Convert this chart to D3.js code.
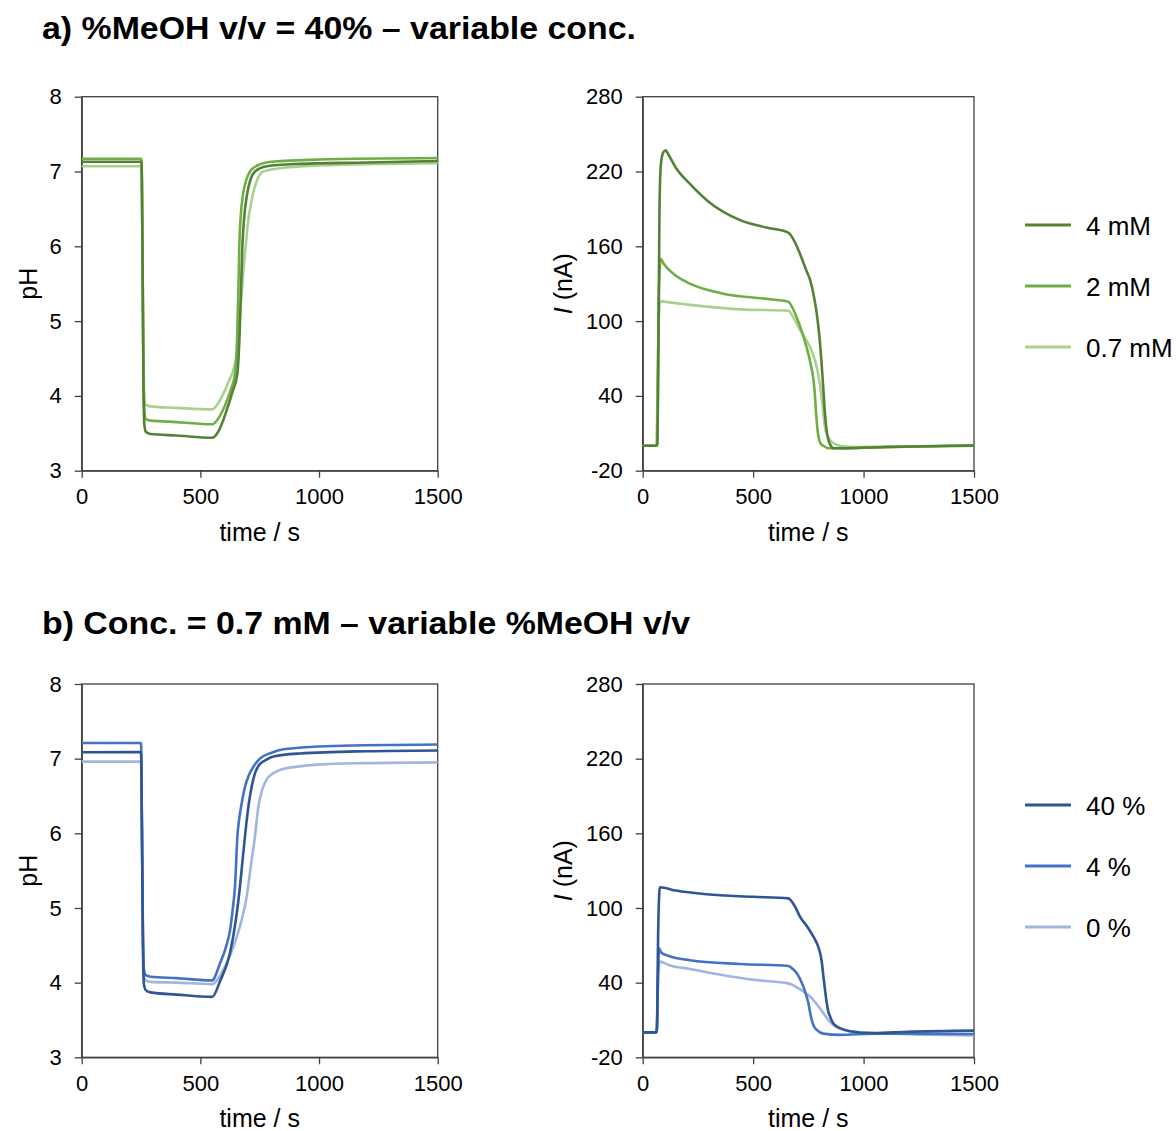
<!DOCTYPE html>
<html>
<head>
<meta charset="utf-8">
<script src="https://cdn.jsdelivr.net/npm/d3@7"></script>
<style>
  body { margin: 0; background: #fff; }
  text { font-family: "Liberation Sans", Arial, sans-serif; fill: #000; }
</style>
</head>
<body>
<div id="chart"></div>
<script>
// tick labels
var timeTicks = [0, 500, 1000, 1500];
var phTicks = [3, 4, 5, 6, 7, 8];
var currentTicks = [-20, 40, 100, 160, 220, 280];

// a) pH, 40 % MeOH, variable concentration  [time (s), pH]
var phA_4mM = [[0,7.13],[252,7.13],[256,6.0],[260,4.2],[264,3.62],[270,3.52],[290,3.49],[400,3.47],[550,3.44],[580,3.55],[610,3.8],[635,4.05],[656,4.3],[665,4.8],[672,5.5],[677,6.0],[685,6.4],[697,6.7],[712,6.9],[730,7.0],[780,7.07],[900,7.1],[1200,7.12],[1500,7.14]];
var phA_2mM = [[0,7.17],[252,7.17],[256,6.0],[260,4.4],[264,3.8],[270,3.69],[290,3.67],[400,3.65],[550,3.62],[580,3.72],[610,3.92],[630,4.1],[646,4.3],[655,4.8],[660,5.4],[664,6.0],[670,6.4],[680,6.7],[695,6.9],[709,7.0],[740,7.08],[800,7.13],[1000,7.16],[1500,7.18]];
var phA_07mM = [[0,7.07],[252,7.07],[256,6.0],[260,4.6],[264,3.95],[270,3.88],[290,3.86],[400,3.84],[550,3.82],[575,3.9],[600,4.05],[620,4.2],[639,4.35],[655,4.6],[670,5.2],[682,5.7],[691,6.0],[700,6.3],[715,6.6],[735,6.85],[765,7.0],[850,7.05],[1000,7.08],[1500,7.11]];

// a) current  [time (s), I (nA)]
var iA_4mM = [[0,0],[60,0],[66,1],[72,100],[76,190],[82,225],[92,235],[104,237],[115,234],[150,223],[214,210],[290,197],[441,181],[560,175],[659,171],[690,163],[712,154],[740,141],[758,133],[775,120],[788,106],[800,88],[810,66],[818,45],[825,26],[833,12],[840,5],[852,0],[863,-2],[923,-2],[1100,-1],[1500,0]];
var iA_2mM = [[0,0],[60,0],[66,1],[72,110],[78,145],[81,150],[95,146],[139,138],[214,130],[365,122],[550,118],[659,115.6],[680,110],[697,103],[720,92],[742,79],[760,66],[773,53],[780,40],[785,26],[795,8],[805,2],[818,0],[840,-2],[863,-2],[1000,-1.5],[1500,0.5]];
var iA_07mM = [[0,0],[58,0],[62,2],[70,80],[76,113],[78,116],[120,115],[214,113],[441,109.4],[659,108.3],[685,102],[712,93],[740,85],[758,79],[775,71],[788,63],[800,52],[810,39],[818,26],[825,15],[835,9],[848,4.6],[870,1.5],[893,0],[969,-1],[1200,-0.5],[1500,0]];

// b) pH, 0.7 mM, variable %MeOH
var phB_40 = [[0,7.085],[250,7.09],[254,6.0],[258,4.5],[262,3.98],[270,3.9],[290,3.87],[400,3.84],[550,3.81],[583,4.02],[625,4.4],[650,4.85],[667,5.29],[678,5.65],[688,5.96],[698,6.25],[709,6.5],[725,6.75],[744,6.9],[775,6.98],[808,7.03],[920,7.07],[1200,7.1],[1500,7.11]];
var phB_4 = [[0,7.21],[250,7.21],[254,6.0],[258,4.7],[262,4.18],[270,4.1],[290,4.08],[400,4.06],[549,4.03],[583,4.26],[610,4.5],[625,4.7],[637,5.0],[646,5.29],[656,5.96],[664,6.2],[674,6.4],[688,6.62],[702,6.76],[725,6.9],[751,7.0],[800,7.08],[850,7.125],[1060,7.17],[1500,7.19]];
var phB_0 = [[0,6.96],[250,6.96],[254,6.0],[258,4.6],[262,4.1],[270,4.03],[290,4.01],[400,4.0],[549,3.98],[597,4.17],[639,4.48],[674,4.84],[695,5.15],[716,5.64],[730,5.96],[744,6.35],[760,6.58],[779,6.72],[805,6.8],[836,6.85],[900,6.89],[990,6.92],[1200,6.94],[1500,6.95]];

// b) current
var iB_40 = [[0,0],[60,0],[64,2],[70,80],[75,112],[78,116.6],[150,114],[290,111],[501,109],[659,107.7],[690,101],[712,93],[745,85],[773,77],[790,71],[803,64],[812,55],[818,45],[825,35],[833,24],[840,17],[848,13],[860,8],[878,5],[900,3],[938,1],[1044,-0.5],[1200,0.5],[1500,1.4]];
var iB_4 = [[0,0],[60,0],[64,2],[70,50],[74,67.6],[85,64],[109,62],[214,58],[441,55],[659,53.4],[680,51],[697,47.7],[712,43],[727,37],[740,30],[750,23.6],[758,16],[765,10.2],[775,5],[788,2],[818,-1],[893,-2],[1044,-1],[1500,-1.3]];
var iB_0 = [[0,0],[60,0],[64,2],[70,45],[78,56.9],[120,54],[214,51],[365,46],[516,42],[659,39.4],[700,36],[727,33],[750,30],[773,26],[795,21],[818,15.5],[840,10],[863,6],[890,3],[923,1.4],[1044,-0.5],[1300,-1.8],[1500,-2.4]];

var legendA = ["4 mM", "2 mM", "0.7 mM"];
var legendB = ["40 %", "4 %", "0 %"];
var greens = ["#548235", "#70AD47", "#A9D18E"];
var blues = ["#2F5597", "#4472C4", "#A3B4DE"];

var svg = d3.select("#chart").append("svg")
    .attr("width", 1176)
    .attr("height", 1131);

// titles
svg.append("text")
    .attr("x", 42).attr("y", 39)
    .attr("textLength", 594).attr("lengthAdjust", "spacingAndGlyphs")
    .style("font-size", "31px").style("font-weight", "bold")
    .text("a) %MeOH v/v = 40% \u2013 variable conc.");
svg.append("text")
    .attr("x", 42).attr("y", 634)
    .attr("textLength", 648).attr("lengthAdjust", "spacingAndGlyphs")
    .style("font-size", "31px").style("font-weight", "bold")
    .text("b) Conc. = 0.7 mM \u2013 variable %MeOH v/v");

function drawPanel(box, yDomain, yTicks, series, colors, yLabel, labelX) {
    var x = d3.scaleLinear().domain([0, 1500]).range([box.x0, box.x1]);
    var y = d3.scaleLinear().domain(yDomain).range([box.y1, box.y0]);
    var g = svg.append("g");

    // frame
    g.append("rect")
        .attr("x", box.x0).attr("y", box.y0)
        .attr("width", box.x1 - box.x0).attr("height", box.y1 - box.y0)
        .attr("fill", "none").attr("stroke", "#404040").attr("stroke-width", 1.3);

    var fmt = function(d) { return String(d); };
    var xAxis = g.append("g")
        .attr("transform", "translate(0," + box.y1 + ")")
        .call(d3.axisBottom(x).tickValues(timeTicks).tickFormat(fmt)
            .tickSize(7).tickSizeOuter(0).tickPadding(11));
    var yAxis = g.append("g")
        .attr("transform", "translate(" + box.x0 + ",0)")
        .call(d3.axisLeft(y).tickValues(yTicks).tickFormat(fmt)
            .tickSize(7).tickSizeOuter(0).tickPadding(13));
    [xAxis, yAxis].forEach(function(a) {
        a.attr("font-size", null).attr("font-family", null);
        a.select(".domain").attr("stroke", "#404040").attr("stroke-width", 1.3);
        a.selectAll(".tick line").attr("stroke", "#404040").attr("stroke-width", 1.3);
        a.selectAll(".tick text").style("font-size", "22px").attr("fill", "#000");
    });

    var line = d3.line()
        .x(function(d) { return x(d[0]); })
        .y(function(d) { return y(d[1]); })
        .curve(d3.curveMonotoneX);

    // draw lightest first so darker lines sit on top
    for (var i = series.length - 1; i >= 0; i--) {
        g.append("path")
            .datum(series[i])
            .attr("fill", "none")
            .attr("stroke", colors[i])
            .attr("stroke-width", 2.6)
            .attr("stroke-linejoin", "round")
            .attr("d", line);
    }

    // x label
    g.append("text")
        .attr("x", (box.x0 + box.x1) / 2).attr("y", box.y1 + 70)
        .attr("text-anchor", "middle").style("font-size", "25px")
        .text("time / s");

    // y label
    var yl = g.append("text")
        .attr("transform", "translate(" + (labelX + 9) + "," + ((box.y0 + box.y1) / 2) + ") rotate(-90)")
        .attr("text-anchor", "middle").style("font-size", "25px");
    if (yLabel === "I") {
        yl.append("tspan").style("font-style", "italic").text("I");
        yl.append("tspan").text(" (nA)");
    } else {
        yl.text(yLabel);
    }
}

function drawLegend(labels, colors, y0) {
    var leg = svg.selectAll(null)
        .data(labels)
        .enter().append("g")
        .attr("transform", function(d, i) { return "translate(1025," + (y0 + i * 61) + ")"; });
    leg.append("line")
        .attr("x1", 0).attr("x2", 46)
        .attr("stroke", function(d, i) { return colors[i]; })
        .attr("stroke-width", 3);
    leg.append("text")
        .attr("x", 61).attr("y", 10)
        .style("font-size", "26px")
        .text(function(d) { return d; });
}

var rowA = {y0: 96.7, y1: 470.7}, rowB = {y0: 684, y1: 1057.3};
var colL = {x0: 81.7, x1: 437.7}, colR = {x0: 642.7, x1: 974};

drawPanel({x0: colL.x0, x1: colL.x1, y0: rowA.y0, y1: rowA.y1}, [3, 8], phTicks,
    [phA_4mM, phA_2mM, phA_07mM], greens, "pH", 28);
drawPanel({x0: colR.x0, x1: colR.x1, y0: rowA.y0, y1: rowA.y1}, [-20, 280], currentTicks,
    [iA_4mM, iA_2mM, iA_07mM], greens, "I", 563);
drawPanel({x0: colL.x0, x1: colL.x1, y0: rowB.y0, y1: rowB.y1}, [3, 8], phTicks,
    [phB_40, phB_4, phB_0], blues, "pH", 28);
drawPanel({x0: colR.x0, x1: colR.x1, y0: rowB.y0, y1: rowB.y1}, [-20, 280], currentTicks,
    [iB_40, iB_4, iB_0], blues, "I", 563);

drawLegend(legendA, greens, 225);
drawLegend(legendB, blues, 805);
</script>
</body>
</html>
